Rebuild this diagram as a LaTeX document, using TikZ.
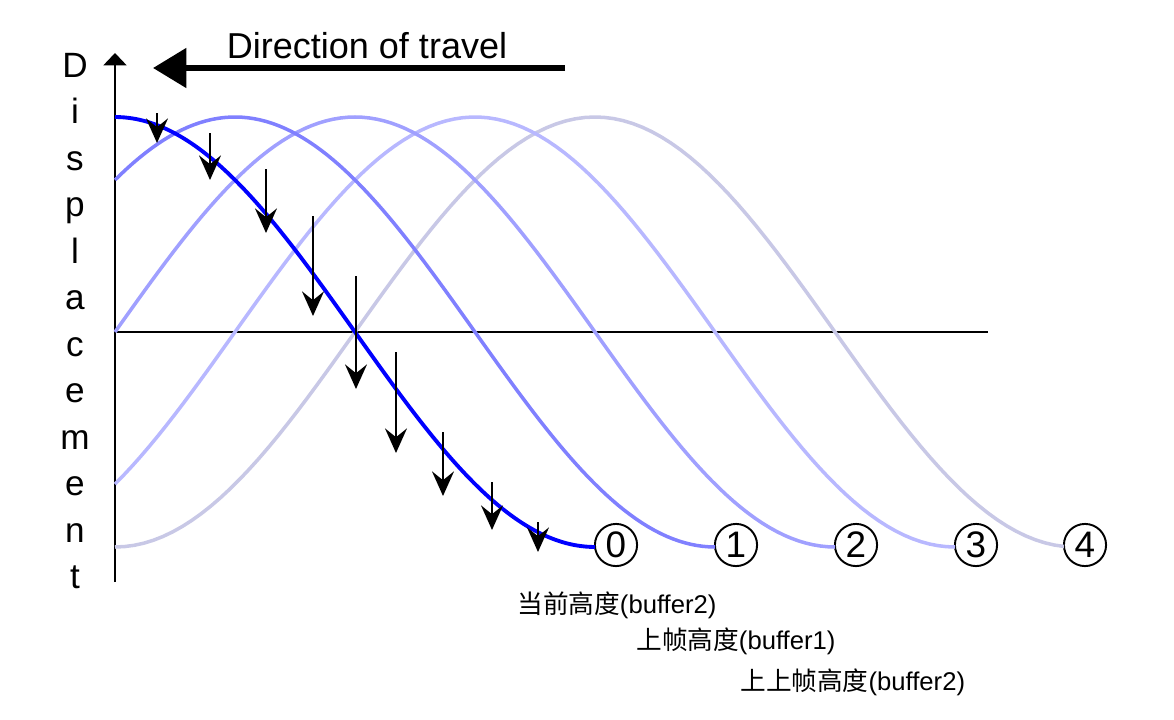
\documentclass[tikz,border=0pt]{standalone}
\usepackage{fontspec}
\setmainfont{Liberation Sans}
\newfontfamily\cjk{Noto Sans CJK SC}
\usetikzlibrary{arrows.meta,positioning}

\definecolor{wave0}{RGB}{0,0,255}
\definecolor{wave1}{RGB}{128,128,255}
\definecolor{wave2}{RGB}{160,160,255}
\definecolor{wave3}{RGB}{184,184,255}
\definecolor{wave4}{RGB}{200,200,230}

\begin{document}
\begin{tikzpicture}[x=0.02cm, y=-0.02cm]
	\tikzstyle{axis}=[line width=1.2pt]
	\tikzstyle{wave}=[line width=2pt]
	\tikzstyle{push}=[line width=1.2pt, -{Stealth[length=14pt, width=12.5pt, inset=5pt]}]
	\tikzstyle{num}=[circle, draw=black, line width=1.1pt, minimum size=24pt, inner sep=0pt, fill=white, font=\fontsize{21}{21}\selectfont]
	\tikzstyle{axlab}=[anchor=base, inner sep=0pt, font=\fontsize{20}{20}\selectfont]
	\tikzstyle{buf}=[anchor=west, inner sep=0pt, font=\fontsize{14.6}{15}\selectfont]
	\useasboundingbox (0,0) rectangle (1174,720);

	% axes
	\coordinate (o)    at (115,332);
	\coordinate (xend) at (988,332);
	\coordinate (ybot) at (115,582);
	\coordinate (ytop) at (115,53);
	\draw[axis] (o) -- (xend);
	\draw[axis, -{Triangle[length=7pt, width=13pt]}] (ybot) -- (ytop);

	% vertical axis label
	\foreach \ch [count=\i from 0] in {D,i,s,p,l,a,c,e,m,e,n,t}
		\node[axlab] (d\i) at (75,{77+46.5*\i}) {\ch};

	% direction of travel
	\coordinate (dstart) at (565,68);
	\coordinate (dend)   at (153,68);
	\draw[line width=3.5pt, -{Triangle[length=19pt, width=22pt]}] (dstart) -- (dend);
	\node[font=\fontsize{20.5}{20.5}\selectfont] (dir) at (367,46) {Direction of travel};

	% frames
	\node[num] (c0) at (616,545) {0};
	\node[num] (c1) at (736,545) {1};
	\node[num] (c2) at (856,545) {2};
	\node[num] (c3) at (976,545) {3};
	\node[num] (c4) at (1085,545) {4};

	\foreach \k/\e in {4/1064,3/955,2/835,1/715}
		\draw[wave, color=wave\k] plot[domain=115:\e, samples=100]
			(\x,{332-215*cos(0.375*(\x-115-120*\k))});
	\draw[wave, color=wave0, line width=2.2pt] plot[domain=115:595, samples=100]
		(\x,{332-215*cos(0.375*(\x-115))});

	% height changes
	\foreach \x/\a/\b [count=\i] in {157/113/143, 210/133/180, 266/169/233, 313/216/316, 356/276/389, 396/352/453, 443/432/496, 492/482/530, 538/522/552}
	{
		\coordinate (t\i) at (\x,\a);
		\coordinate (h\i) at (\x,\b);
		\draw[push] (t\i) -- (h\i);
	}

	% buffers
	\node[buf] (b0) at (517,605) {{\cjk 当前高度}(buffer2)};
	\node[buf] (b1) at (636,641) {{\cjk 上帧高度}(buffer1)};
	\node[buf] (b2) at (740,682) {{\cjk 上上帧高度}(buffer2)};
\end{tikzpicture}
\end{document}
